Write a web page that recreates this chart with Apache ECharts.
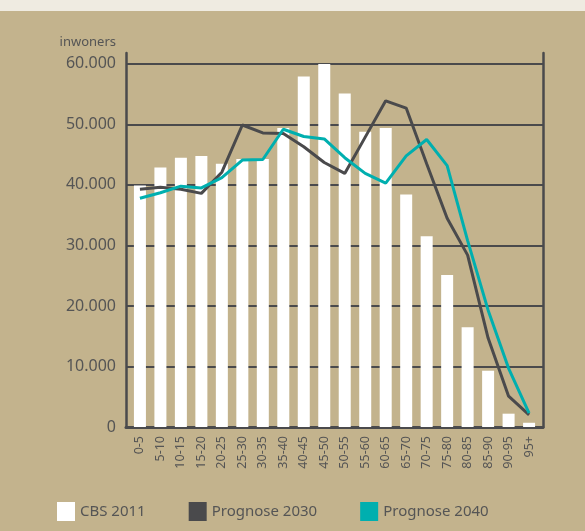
<!DOCTYPE html>
<html>
<head>
<meta charset="utf-8">
<script src="https://cdn.jsdelivr.net/npm/echarts@6/dist/echarts.min.js"></script>
<style>
html,body{margin:0;padding:0;background:#C3B38D;}
#chart{width:585px;height:531px;}
</style>
</head>
<body>
<div id="chart"></div>
<script>
const categories = ['0-5','5-10','10-15','15-20','20-25','25-30','30-35','35-40','40-45','45-50','50-55','55-60','60-65','65-70','70-75','75-80','80-85','85-90','90-95','95+'];
const cbs2011 = [39900, 42900, 44500, 44800, 43500, 44300, 44300, 49400, 57900, 60000, 55100, 48800, 49400, 38400, 31500, 25100, 16500, 9300, 2200, 700];
const prognose2030 = [39300, 39600, 39300, 38600, 42100, 49900, 48600, 48500, 46300, 43700, 41900, 47900, 53900, 52700, 43500, 34500, 28400, 14700, 5100, 2000];
const prognose2040 = [37800, 38700, 39800, 39500, 41200, 44100, 44200, 49200, 48000, 47600, 44500, 41900, 40300, 44800, 47500, 43200, 30800, 19300, 9700, 2300];
const yTicks = [0, 10000, 20000, 30000, 40000, 50000, 60000];

const dark = '#4A4A4C';
const teal = '#00AFAF';
const textCol = '#555555';
const idx = categories.map((c, i) => i);
const pairs = arr => arr.map((v, i) => [i, v]);
const fmt = v => v === 0 ? '0' : String(v).replace(/\B(?=(\d{3})+(?!\d))/g, '.');

const chart = echarts.init(document.getElementById('chart'));
chart.setOption({
  backgroundColor: '#C3B38D',
  animation: false,
  textStyle: { fontFamily: 'Noto Sans' },
  graphic: [{
    type: 'rect', left: 0, top: 0, shape: { width: 585, height: 11 },
    style: { fill: '#EFEBE1' }, z: -10
  }],
  grid: { left: 126, right: 42, top: 53, bottom: 104, containLabel: false },
  legend: {
    left: 52, top: 497, itemGap: 43, itemWidth: 18, itemHeight: 19,
    icon: 'rect',
    textStyle: { color: textCol, fontSize: 15, fontFamily: 'Noto Sans' },
    data: ['CBS 2011', 'Prognose 2030', 'Prognose 2040']
  },
  xAxis: {
    type: 'value', min: -0.68, max: 19.68,
    axisLine: { show: true, onZero: false, lineStyle: { color: dark, width: 3 } },
    axisTick: { show: false, customValues: idx },
    splitLine: { show: false },
    axisLabel: {
      customValues: idx, rotate: 90, margin: 9,
      color: textCol, fontSize: 12.5, fontFamily: 'Noto Sans',
      formatter: v => categories[Math.round(v)]
    }
  },
  yAxis: [{
    type: 'value', min: 0, max: 61800,
    name: 'inwoners', nameLocation: 'end', nameGap: 4,
    nameTextStyle: { color: textCol, fontSize: 13, align: 'right', padding: [0, 10, 0, 0], verticalAlign: 'bottom' },
    axisLine: { show: true, onZero: false, lineStyle: { color: dark, width: 2.5 } },
    axisTick: { show: false, customValues: yTicks },
    axisLabel: { customValues: yTicks, color: textCol, fontSize: 16, margin: 10, formatter: fmt },
    splitLine: { show: true, lineStyle: { color: dark, width: 2 } }
  }, {
    type: 'value', min: 0, max: 61800, position: 'right',
    axisLine: { show: true, onZero: false, lineStyle: { color: dark, width: 2.5 } },
    axisTick: { show: false }, axisLabel: { show: false }, splitLine: { show: false }
  }],
  series: [{
    name: 'CBS 2011', type: 'bar', barWidth: 12,
    itemStyle: { color: '#FFFFFF' },
    data: pairs(cbs2011)
  }, {
    name: 'Prognose 2030', type: 'line', symbol: 'none',
    itemStyle: { color: dark },
    lineStyle: { color: dark, width: 3 },
    data: pairs(prognose2030)
  }, {
    name: 'Prognose 2040', type: 'line', symbol: 'none',
    itemStyle: { color: teal },
    lineStyle: { color: teal, width: 3 },
    data: pairs(prognose2040)
  }]
});
</script>
</body>
</html>
